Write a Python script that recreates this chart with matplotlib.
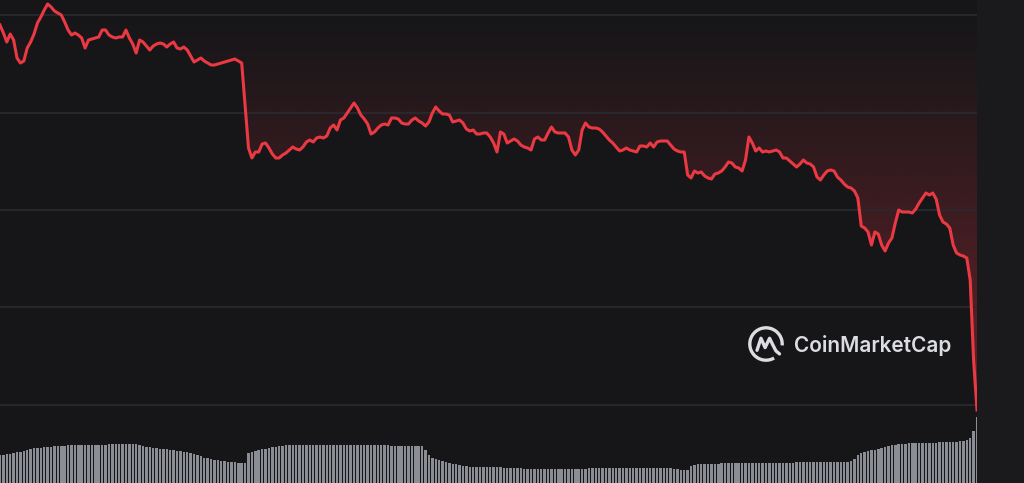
import numpy as np
import matplotlib
matplotlib.use('Agg')
import matplotlib.pyplot as plt
from matplotlib.patches import Polygon, Arc
from matplotlib.colors import to_rgb

# 24h, one point every 5 minutes
minutes = np.arange(288) * 5

price = [
    0.875, 0.867, 0.858, 0.866, 0.860, 0.842, 0.837, 0.839, 0.852, 0.858, 0.866, 0.877,
    0.883, 0.890, 0.896, 0.893, 0.889, 0.887, 0.885, 0.878, 0.870, 0.865, 0.867, 0.865,
    0.862, 0.852, 0.860, 0.861, 0.862, 0.863, 0.870, 0.870, 0.865, 0.863, 0.862, 0.863,
    0.863, 0.870, 0.862, 0.856, 0.847, 0.860, 0.858, 0.854, 0.850, 0.854, 0.856, 0.857,
    0.856, 0.853, 0.856, 0.858, 0.852, 0.851, 0.853, 0.850, 0.844, 0.838, 0.840, 0.842,
    0.839, 0.837, 0.835, 0.835, 0.836, 0.837, 0.838, 0.839, 0.840, 0.841, 0.839, 0.837,
    0.795, 0.752, 0.742, 0.748, 0.748, 0.756, 0.757, 0.752, 0.746, 0.742, 0.742, 0.745,
    0.747, 0.750, 0.753, 0.751, 0.750, 0.753, 0.758, 0.760, 0.758, 0.762, 0.763, 0.762,
    0.764, 0.772, 0.775, 0.770, 0.780, 0.782, 0.787, 0.792, 0.797, 0.792, 0.785, 0.781,
    0.776, 0.766, 0.768, 0.772, 0.775, 0.776, 0.775, 0.782, 0.782, 0.781, 0.777, 0.776,
    0.776, 0.780, 0.782, 0.779, 0.777, 0.774, 0.778, 0.787, 0.793, 0.789, 0.786, 0.786,
    0.785, 0.778, 0.779, 0.780, 0.777, 0.771, 0.769, 0.770, 0.766, 0.766, 0.767, 0.767,
    0.763, 0.757, 0.748, 0.768, 0.766, 0.757, 0.759, 0.761, 0.759, 0.755, 0.753, 0.752,
    0.750, 0.761, 0.763, 0.760, 0.760, 0.767, 0.773, 0.768, 0.767, 0.767, 0.767, 0.763,
    0.750, 0.745, 0.750, 0.770, 0.777, 0.773, 0.772, 0.772, 0.771, 0.768, 0.764, 0.760,
    0.757, 0.753, 0.749, 0.750, 0.752, 0.750, 0.749, 0.748, 0.754, 0.754, 0.753, 0.757,
    0.753, 0.758, 0.759, 0.759, 0.759, 0.755, 0.751, 0.749, 0.748, 0.748, 0.725, 0.722,
    0.729, 0.727, 0.728, 0.724, 0.722, 0.721, 0.726, 0.727, 0.729, 0.733, 0.738, 0.737,
    0.733, 0.732, 0.729, 0.740, 0.763, 0.757, 0.749, 0.752, 0.748, 0.749, 0.748, 0.749,
    0.750, 0.748, 0.742, 0.742, 0.739, 0.736, 0.733, 0.736, 0.740, 0.737, 0.736, 0.733,
    0.723, 0.720, 0.725, 0.729, 0.730, 0.729, 0.723, 0.720, 0.716, 0.713, 0.712, 0.709,
    0.702, 0.674, 0.672, 0.668, 0.655, 0.668, 0.666, 0.655, 0.649, 0.657, 0.662, 0.677,
    0.690, 0.688, 0.688, 0.688, 0.687, 0.691, 0.697, 0.702, 0.707, 0.705, 0.707, 0.701,
    0.685, 0.678, 0.676, 0.672, 0.655, 0.647, 0.645, 0.644, 0.642, 0.620, 0.540, 0.490,
]

# volume in millions
volume_m = [
    28, 28, 29, 29, 30, 31, 31, 32, 33, 34, 35, 35,
    35, 36, 36, 36, 37, 37, 37, 37, 38, 38, 38, 38,
    38, 38, 38, 38, 38, 38, 38, 38, 39, 39, 39, 39,
    39, 39, 39, 39, 39, 38, 37, 36, 36, 35, 35, 34,
    34, 34, 33, 33, 32, 32, 31, 31, 30, 29, 28, 27,
    25, 25, 24, 23, 23, 22, 22, 21, 21, 21, 20, 20,
    20, 30, 31, 32, 33, 34, 34, 35, 36, 36, 37, 37,
    38, 38, 38, 38, 38, 38, 38, 38, 38, 38, 38, 38,
    38, 38, 38, 38, 38, 38, 38, 38, 38, 38, 38, 38,
    38, 38, 38, 38, 38, 38, 38, 37, 37, 37, 37, 37,
    37, 37, 37, 37, 37, 33, 28, 25, 24, 23, 22, 21,
    20, 19, 19, 18, 17, 17, 16, 16, 16, 16, 16, 16,
    16, 16, 16, 16, 15, 15, 15, 15, 15, 15, 14, 14,
    14, 14, 14, 14, 14, 14, 14, 14, 14, 14, 14, 14,
    14, 14, 14, 14, 14, 15, 15, 15, 15, 15, 15, 15,
    15, 15, 15, 15, 15, 15, 15, 15, 15, 15, 15, 15,
    15, 15, 15, 15, 15, 15, 14, 14, 13, 13, 13, 17,
    18, 19, 19, 19, 19, 19, 19, 19, 20, 20, 20, 20,
    20, 20, 20, 20, 20, 20, 20, 20, 20, 20, 20, 20,
    20, 20, 20, 20, 20, 20, 21, 21, 21, 21, 21, 21,
    21, 21, 21, 21, 21, 21, 21, 21, 21, 21, 22, 24,
    28, 30, 31, 32, 33, 33, 34, 35, 36, 37, 38, 38,
    39, 39, 39, 40, 40, 40, 40, 40, 40, 40, 40, 40,
    41, 41, 41, 41, 41, 41, 42, 42, 43, 45, 52, 66,
]

grid_levels = [0.885, 0.787, 0.690, 0.593, 0.495]
open_level = 0.884

RED = '#ea3943'
BG = '#161619'

fig = plt.figure(figsize=(10.24, 4.83), dpi=100, facecolor='#1a1a1d')
box = [0, 0, 977 / 1024, 1]

# volume underneath
ax_vol = fig.add_axes(box)
ax_vol.set_facecolor(BG)
ax_vol.bar(minutes, volume_m, width=3.6, color='#8b8d94', linewidth=0)
ax_vol.set_xlim(0, 1435)
ax_vol.set_ylim(0, 483)
ax_vol.set_xticks([])
ax_vol.set_yticks([])
for s in ax_vol.spines.values():
    s.set_visible(False)

# price on top
ax = fig.add_axes(box)
ax.patch.set_visible(False)
ax.set_yticks(grid_levels)
ax.grid(axis='y', color='#2a2a30', linewidth=1.2, zorder=0)
ax.tick_params(length=0, labelleft=False, labelbottom=False)
ax.set_xticks([])
for s in ax.spines.values():
    s.set_visible(False)

# gradient fill between the price and the opening level
lo, hi = 0.417, open_level
n = 256
levels = np.linspace(lo, hi, n)
grad = np.zeros((n, 1, 4))
grad[..., :3] = to_rgb(RED)
grad[:, 0, 3] = 0.95 * (hi - levels)
im = ax.imshow(grad, extent=[0, 1435, lo, hi], origin='lower', aspect='auto',
               interpolation='bilinear', zorder=1)
top = np.minimum(np.array(price), open_level)
verts = list(zip(minutes, top)) + [(minutes[-1], open_level), (0, open_level)]
clip = Polygon(verts, closed=True, transform=ax.transData, facecolor='none', edgecolor='none')
ax.add_patch(clip)
im.set_clip_path(clip)

ax.plot(minutes, price, color=RED, linewidth=2.2, solid_joinstyle='round', zorder=3)
ax.set_xlim(0, 1435)
ax.set_ylim(0.417, 0.900)

# watermark
WM = '#dcdde0'
fig.text(794 / 1024, 1 - 346 / 483, 'CoinMarketCap', color=WM, fontsize=15,
         fontweight='semibold', family=['Inter', 'DejaVu Sans'], va='center', ha='left')
lax = fig.add_axes([748 / 1024, 1 - 362 / 483, 36 / 1024, 36 / 483])
lax.set_xlim(-1, 1)
lax.set_ylim(-1, 1)
lax.set_aspect('equal')
lax.axis('off')
lax.add_patch(Arc((0, 0), 1.8, 1.8, theta1=-5, theta2=300, linewidth=2.4, color=WM))
lax.plot([-0.5, -0.28, -0.05, 0.2, 0.38, 0.55, 0.75],
         [-0.35, 0.32, -0.2, 0.32, -0.05, -0.38, -0.55],
         color=WM, linewidth=2.4, solid_joinstyle='round', solid_capstyle='round')

fig.savefig('out.png', dpi=100, facecolor=fig.get_facecolor())
